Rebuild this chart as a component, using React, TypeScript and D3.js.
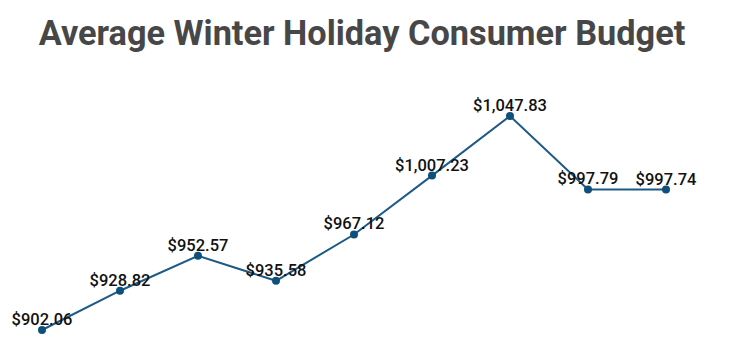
import React from "react";
import * as d3 from "d3";

const years = ["2015", "2016", "2017", "2018", "2019", "2020", "2021", "2022", "2023"];
const budgets = [902.06, 928.82, 952.57, 935.58, 967.12, 1007.23, 1047.83, 997.79, 997.74];
const title = "Average Winter Holiday Consumer Budget";

const W = 732;
const H = 350;

export default function App() {
  const x = d3.scalePoint<string>().domain(years).range([42, 666]);
  const y = d3.scaleLinear().domain([902.06, 1047.83]).range([330, 116]);
  const data = years.map((yr, i) => ({ yr, v: budgets[i] }));
  const line = d3
    .line<{ yr: string; v: number }>()
    .x((d) => x(d.yr)!)
    .y((d) => y(d.v));
  const fmt = (v: number) => "$" + d3.format(",.2f")(v);
  return (
    <svg
      width={W}
      height={H}
      style={{ position: "absolute", left: 0, top: 0, background: "#fff" }}
      fontFamily="Roboto, sans-serif"
    >
      <text x={362} y={44.5} textAnchor="middle" fontSize={34.3} fontWeight={700} fill="#474747">
        {title}
      </text>
      <path d={line(data) || ""} fill="none" stroke="#1c5a85" strokeWidth={2} />
      {data.map((d) => (
        <circle key={d.yr} cx={x(d.yr)} cy={y(d.v)} r={4} fill="#0f4f7c" />
      ))}
      {data.map((d) => (
        <text
          key={"l" + d.yr}
          x={x(d.yr)}
          y={y(d.v) - 5}
          textAnchor="middle"
          fontSize={16.5}
          fontWeight={500}
          fill="#111"
        >
          {fmt(d.v)}
        </text>
      ))}
    </svg>
  );
}
